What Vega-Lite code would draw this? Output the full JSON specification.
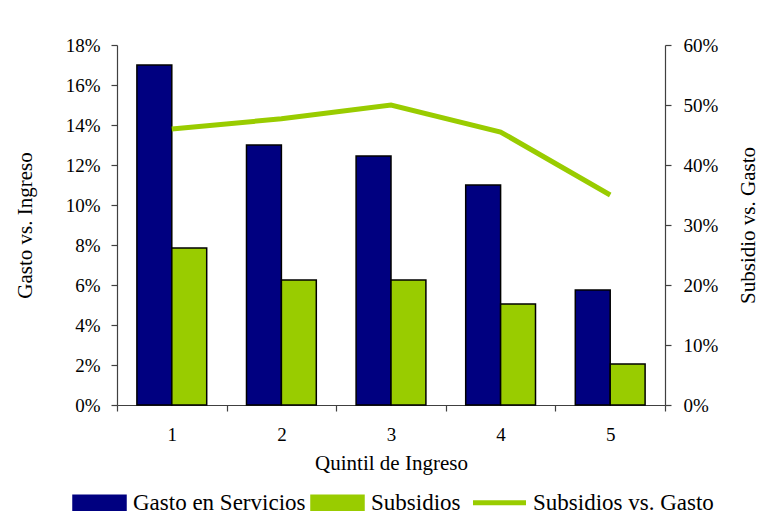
{
  "$schema": "https://vega.github.io/schema/vega-lite/v6.json",
  "width": 548,
  "height": 360,
  "autosize": {"type": "none"},
  "padding": {"left": 117, "top": 45, "right": 96, "bottom": 111},
  "background": "white",
  "config": {
    "view": {"stroke": null},
    "font": "Liberation Serif",
    "axis": {
      "labelFont": "Liberation Serif",
      "titleFont": "Liberation Serif",
      "labelFontSize": 19,
      "titleFontSize": 21,
      "titleFontWeight": "normal",
      "labelColor": "black",
      "titleColor": "black",
      "domainColor": "#404040",
      "tickColor": "#404040",
      "domainWidth": 1.2,
      "tickWidth": 1.2,
      "grid": false
    },
    "legend": {
      "labelFont": "Liberation Serif",
      "labelFontSize": 23,
      "labelColor": "black",
      "labelLimit": 400,
      "padding": 0
    }
  },
  "datasets": {
    "bars": [
      {"quintil": "1", "serie": "Gasto en Servicios", "valor": 0.170},
      {"quintil": "1", "serie": "Subsidios", "valor": 0.0785},
      {"quintil": "2", "serie": "Gasto en Servicios", "valor": 0.130},
      {"quintil": "2", "serie": "Subsidios", "valor": 0.0625},
      {"quintil": "3", "serie": "Gasto en Servicios", "valor": 0.1245},
      {"quintil": "3", "serie": "Subsidios", "valor": 0.0625},
      {"quintil": "4", "serie": "Gasto en Servicios", "valor": 0.110},
      {"quintil": "4", "serie": "Subsidios", "valor": 0.0505},
      {"quintil": "5", "serie": "Gasto en Servicios", "valor": 0.0575},
      {"quintil": "5", "serie": "Subsidios", "valor": 0.0205}
    ],
    "line": [
      {"quintil": "1", "ratio": 0.46},
      {"quintil": "2", "ratio": 0.477},
      {"quintil": "3", "ratio": 0.50},
      {"quintil": "4", "ratio": 0.455},
      {"quintil": "5", "ratio": 0.35}
    ]
  },
  "layer": [
    {
      "data": {"name": "bars"},
      "mark": {"type": "bar", "stroke": "black", "strokeWidth": 1.5},
      "encoding": {
        "x": {
          "field": "quintil",
          "type": "ordinal",
          "scale": {"paddingInner": 0, "paddingOuter": 0},
          "axis": {
            "title": "Quintil de Ingreso",
            "labelAngle": 0,
            "tickBand": "extent",
            "tickSize": 6,
            "labelPadding": 14,
            "titlePadding": 8
          }
        },
        "xOffset": {
          "field": "serie",
          "type": "nominal",
          "sort": ["Gasto en Servicios", "Subsidios"],
          "scale": {"paddingInner": 0, "paddingOuter": 0.57}
        },
        "y": {
          "field": "valor",
          "type": "quantitative",
          "scale": {"domain": [0, 0.18]},
          "axis": {
            "title": "Gasto vs. Ingreso",
            "format": ".0%",
            "values": [0, 0.02, 0.04, 0.06, 0.08, 0.10, 0.12, 0.14, 0.16, 0.18],
            "tickSize": 6,
            "labelPadding": 11,
            "titlePadding": 30
          }
        },
        "color": {
          "field": "serie",
          "type": "nominal",
          "scale": {
            "domain": ["Gasto en Servicios", "Subsidios", "Subsidios vs. Gasto"],
            "range": ["#000080", "#99CC00", "#99CC00"]
          },
          "legend": {
            "title": null,
            "orient": "none",
            "direction": "horizontal",
            "legendX": -29,
            "legendY": 446,
            "symbolSize": 2809,
            "labelOffset": 22,
            "columnPadding": 2,
            "encode": {
              "symbols": {
                "update": {
                  "shape": {"signal": "datum.value === 'Subsidios vs. Gasto' ? 'M-1,0H1' : 'M-1,-0.28H1V0.28H-1Z'"},
                  "fill": {"signal": "datum.value === 'Subsidios vs. Gasto' ? 'transparent' : (datum.value === 'Subsidios' ? '#99CC00' : '#000080')"},
                  "stroke": {"signal": "datum.value === 'Subsidios vs. Gasto' ? '#99CC00' : 'black'"},
                  "strokeWidth": {"signal": "datum.value === 'Subsidios vs. Gasto' ? 5 : 1.5"},
                  "opacity": {"value": 1}
                }
              }
            }
          }
        }
      }
    },
    {
      "data": {"name": "line"},
      "mark": {"type": "line", "strokeWidth": 5, "color": "#99CC00"},
      "encoding": {
        "x": {"field": "quintil", "type": "ordinal"},
        "y": {
          "field": "ratio",
          "type": "quantitative",
          "scale": {"domain": [0, 0.6]},
          "axis": {
            "orient": "right",
            "title": "Subsidio vs. Gasto",
            "format": ".0%",
            "values": [0, 0.1, 0.2, 0.3, 0.4, 0.5, 0.6],
            "tickSize": 6,
            "labelPadding": 12,
            "titleAngle": 270,
            "titlePadding": 41
          }
        },
        "color": {
          "datum": "Subsidios vs. Gasto",
          "type": "nominal",
          "legend": {
            "title": null,
            "orient": "none",
            "direction": "horizontal",
            "legendX": -29,
            "legendY": 446,
            "symbolSize": 2809,
            "labelOffset": 22,
            "columnPadding": 2,
            "encode": {
              "symbols": {
                "update": {
                  "shape": {"signal": "datum.value === 'Subsidios vs. Gasto' ? 'M-1,0H1' : 'M-1,-0.28H1V0.28H-1Z'"},
                  "fill": {"signal": "datum.value === 'Subsidios vs. Gasto' ? 'transparent' : (datum.value === 'Subsidios' ? '#99CC00' : '#000080')"},
                  "stroke": {"signal": "datum.value === 'Subsidios vs. Gasto' ? '#99CC00' : 'black'"},
                  "strokeWidth": {"signal": "datum.value === 'Subsidios vs. Gasto' ? 5 : 1.5"},
                  "opacity": {"value": 1}
                }
              }
            }
          }
        }
      }
    }
  ],
  "resolve": {"scale": {"y": "independent"}}
}
